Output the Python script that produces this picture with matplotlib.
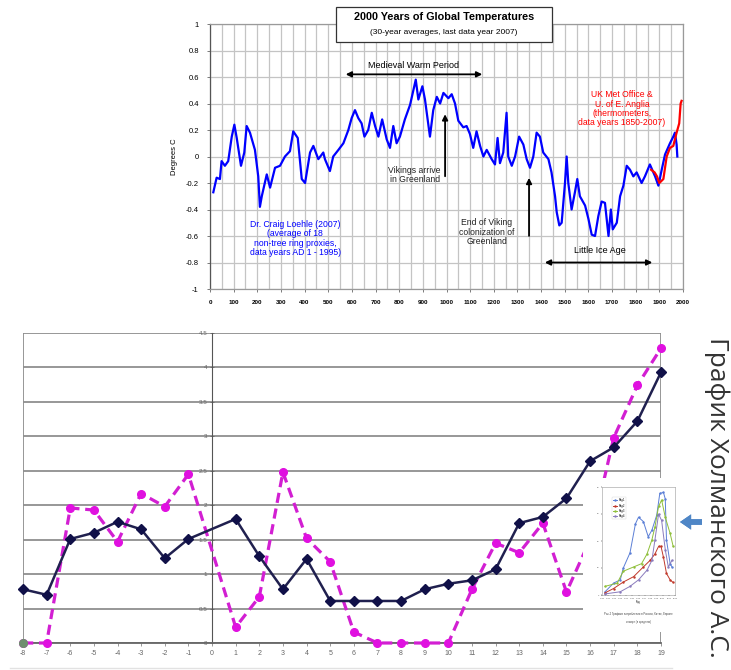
import numpy as np
import matplotlib.pyplot as plt
from matplotlib.patches import Rectangle
from matplotlib.lines import Line2D

plt.rcParams['font.family'] = ['Liberation Sans', 'DejaVu Sans']

# --- top chart: Loehle (2007) reconstruction ---
loehle_years = [14, 28, 42, 49, 63, 77, 92, 103, 113, 131, 145, 155, 169, 190, 204, 211, 219,
                240, 254, 275, 296, 317, 338, 352, 371, 388, 402, 423, 437, 458, 479, 486, 500,
                507, 521, 543, 564, 585, 599, 613, 627, 641, 653, 669, 684, 698, 712, 728, 747,
                761, 775, 789, 803, 824, 846, 860, 870, 881, 898, 909, 930, 944, 959, 973, 987,
                1008, 1022, 1036, 1050, 1071, 1085, 1099, 1113, 1127, 1142, 1156, 1170, 1191,
                1205, 1216, 1226, 1240, 1254, 1261, 1276, 1290, 1307, 1325, 1339, 1353, 1367,
                1381, 1395, 1409, 1431, 1444, 1459, 1466, 1477, 1487, 1501, 1508, 1515, 1529,
                1543, 1553, 1564, 1586, 1600, 1614, 1628, 1642, 1656, 1670, 1685, 1695, 1703,
                1720, 1734, 1748, 1762, 1776, 1790, 1804, 1825, 1839, 1860, 1882, 1896, 1910,
                1924, 1945, 1959, 1966, 1973, 1976]
loehle_temps = [-0.27, -0.16, -0.17, -0.035, -0.07, -0.035, 0.15, 0.24, 0.14, -0.07, 0.03, 0.23,
                0.18, 0.05, -0.15, -0.38, -0.30, -0.135, -0.235, -0.085, -0.07, 0.0, 0.04, 0.19,
                0.14, -0.17, -0.2, 0.03, 0.08, -0.02, 0.03, -0.02, -0.08, -0.11, 0.0, 0.05, 0.1,
                0.2, 0.29, 0.35, 0.29, 0.25, 0.15, 0.2, 0.33, 0.23, 0.15, 0.28, 0.13, 0.065, 0.23,
                0.1, 0.15, 0.28, 0.39, 0.5, 0.58, 0.43, 0.53, 0.43, 0.15, 0.35, 0.45, 0.4, 0.48,
                0.44, 0.47, 0.4, 0.27, 0.22, 0.23, 0.17, 0.065, 0.19, 0.08, 0.0, 0.05, -0.02,
                -0.06, 0.14, -0.05, 0.03, 0.33, 0.0, -0.07, 0.0, 0.15, 0.09, -0.02, -0.085, 0.0,
                0.18, 0.15, 0.03, -0.02, -0.12, -0.3, -0.42, -0.52, -0.5, -0.2, 0.0, -0.2, -0.4,
                -0.27, -0.17, -0.3, -0.37, -0.47, -0.59, -0.6, -0.45, -0.34, -0.35, -0.6, -0.4,
                -0.55, -0.5, -0.3, -0.22, -0.07, -0.1, -0.15, -0.12, -0.2, -0.15, -0.06, -0.15,
                -0.22, -0.1, 0.015, 0.1, 0.15, 0.18, 0.09, 0.0]
cru_years = [1865, 1880, 1890, 1900, 1917, 1931, 1945, 1959, 1973, 1984, 1990, 1994]
cru_temps = [-0.1, -0.12, -0.15, -0.2, -0.17, 0.0, 0.065, 0.08, 0.18, 0.25, 0.4, 0.42]

top_xticks = list(range(0, 2001, 100))
top_yticks = [1, 0.8, 0.6, 0.4, 0.2, 0, -0.2, -0.4, -0.6, -0.8, -1]
top_ylabels = ['1', '0.8', '0.6', '0.4', '0.2', '0', '-0.2', '-0.4', '-0.6', '-0.8', '-1']

# --- bottom chart ---
centuries = [-8, -7, -6, -5, -4, -3, -2, -1, 1, 2, 3, 4, 5, 6, 7, 8, 9, 10, 11, 12, 13, 14, 15,
             16, 17, 18, 19]
navy_vals = [0.78, 0.70, 1.51, 1.60, 1.76, 1.65, 1.23, 1.51, 1.80, 1.26, 0.78, 1.22, 0.61, 0.61,
             0.61, 0.61, 0.78, 0.86, 0.91, 1.07, 1.74, 1.83, 2.10, 2.64, 2.84, 3.22, 3.93]
magenta_vals = [0, 0, 1.96, 1.93, 1.47, 2.17, 1.98, 2.45, 0.23, 0.67, 2.48, 1.52, 1.18, 0.16, 0,
                0, 0, 0, 0.78, 1.45, 1.31, 1.74, 0.74, 1.5, 2.98, 3.74, 4.28]
bottom_xticks = list(range(-8, 20))
bottom_yticks = [0, 0.5, 1, 1.5, 2, 2.5, 3, 3.5, 4, 4.5]
bottom_ylabels = ['0', '0.5', '1', '1.5', '2', '2.5', '3', '3.5', '4', '4.5']

# --- small inset chart ---
inset_blue_x = [0.5, 1.9, 3.0, 3.5, 4.6, 5.5, 6.0, 6.8, 7.6, 8.2, 9.0, 9.5, 10.1, 10.4, 10.6, 11.2, 11.5]
inset_blue_y = [0.03, 0.11, 0.14, 0.25, 0.39, 0.66, 0.72, 0.68, 0.54, 0.60, 0.74, 0.94, 0.95, 0.89, 0.51, 0.29, 0.26]
inset_red_x = [0.5, 1.9, 3.5, 5.2, 6.8, 7.9, 8.7, 9.3, 9.7, 10.1, 10.6, 11.2, 11.6]
inset_red_y = [0.02, 0.06, 0.12, 0.17, 0.26, 0.32, 0.38, 0.45, 0.45, 0.35, 0.2, 0.14, 0.12]
inset_green_x = [0.5, 2.5, 3.5, 5.2, 6.5, 7.4, 8.2, 8.7, 9.3, 9.8, 10.4, 11.2, 11.7]
inset_green_y = [0.08, 0.11, 0.22, 0.26, 0.29, 0.38, 0.51, 0.63, 0.82, 0.88, 0.72, 0.57, 0.45]
inset_purple_x = [0.5, 3.0, 4.6, 6.0, 7.4, 8.2, 8.7, 9.3, 9.8, 10.4, 10.9, 11.5]
inset_purple_y = [0.01, 0.03, 0.08, 0.14, 0.23, 0.32, 0.51, 0.75, 0.69, 0.42, 0.26, 0.32]
inset_labels = ['Ряд1', 'Ряд2', 'Ряд3', 'Ряд4']

W, H = 731, 670
fig = plt.figure(figsize=(W / 100, H / 100), dpi=100)


def fx(px):
    return px / W


def fy(py):
    return 1 - py / H


# ================= top chart =================
ax1 = fig.add_axes([fx(210), fy(289), fx(473), 265 / H])
ax1.plot(loehle_years, loehle_temps, color='#0000ff', lw=1.6, zorder=3)
ax1.plot(cru_years, cru_temps, color='#ff0000', lw=1.6, zorder=4)
ax1.set_xlim(0, 2000)
ax1.set_ylim(-1, 1)
ax1.set_xticks(top_xticks)
ax1.set_xticklabels([str(t) for t in top_xticks], fontsize=4.5, fontweight='bold')
ax1.set_xticks(range(50, 2000, 100), minor=True)
ax1.set_yticks(top_yticks)
ax1.set_yticklabels(top_ylabels, fontsize=5.5)
ax1.grid(which='both', axis='x', color='#c4c4c4', lw=0.9)
ax1.grid(axis='y', color='#c4c4c4', lw=0.9)
ax1.tick_params(which='both', length=2, width=0.6, color='#666', pad=6)
ax1.tick_params(which='minor', length=0)
for s in ax1.spines.values():
    s.set_color('#9a9a9a')
    s.set_linewidth(0.9)
ax1.spines['left'].set_color('#555')
ax1.set_ylabel('Degrees C', fontsize=5.5, labelpad=6)

arrow_kw = dict(arrowstyle='<|-|>', color='black', lw=1.3, mutation_scale=8)
ax1.annotate('', xy=(562, 0.62), xytext=(1163, 0.62), arrowprops=arrow_kw)
ax1.text(862, 0.69, 'Medieval Warm Period', fontsize=6.5, ha='center', va='center')
ax1.annotate('', xy=(1404, -0.80), xytext=(1882, -0.80), arrowprops=arrow_kw)
ax1.text(1650, -0.71, 'Little Ice Age', fontsize=6.5, ha='center', va='center')
up_kw = dict(arrowstyle='-|>', color='black', lw=1.3, mutation_scale=8)
ax1.annotate('', xy=(994, 0.34), xytext=(994, -0.17), arrowprops=up_kw)
ax1.text(975, -0.14, 'Vikings arrive\nin Greenland', fontsize=6.2, ha='right', va='center',
         linespacing=1.0, color='#222')
ax1.annotate('', xy=(1349, -0.14), xytext=(1349, -0.62), arrowprops=up_kw)
ax1.text(1170, -0.57, 'End of Viking\ncolonization of\nGreenland', fontsize=6.2, ha='center',
         va='center', linespacing=1.05, color='#222')
ax1.text(360, -0.62, 'Dr. Craig Loehle (2007)\n(average of 18\nnon-tree ring proxies,\n'
         'data years AD 1 - 1995)', fontsize=6.2, ha='center', va='center', color='#0000ff',
         linespacing=1.05)
ax1.text(1742, 0.36, 'UK Met Office &\nU. of E. Anglia\n(thermometers,\ndata years 1850-2007)',
         fontsize=6.2, ha='center', va='center', color='#ff0000', linespacing=1.05)

# title box
fig.add_artist(Rectangle((fx(336), fy(42)), fx(216), 35 / H, transform=fig.transFigure,
                         facecolor='white', edgecolor='#333', lw=0.9, zorder=5))
fig.text(fx(444), fy(17), '2000 Years of Global Temperatures', fontsize=7.8,
         fontweight='bold', ha='center', va='center', zorder=6)
fig.text(fx(444), fy(33), '(30-year averages, last data year 2007)', fontsize=6,
         ha='center', va='center', zorder=6)

# ================= bottom chart =================
ax2 = fig.add_axes([fx(23), fy(643), fx(638), 310 / H])
ax2.spines['left'].set_position(('data', 0))
ax2.set_xlim(-8, 19)
ax2.set_ylim(0, 4.5)
ax2.set_yticks(bottom_yticks)
ax2.set_yticklabels(bottom_ylabels)
ax2.set_xticks(bottom_xticks)
ax2.set_xticklabels([str(t) for t in bottom_xticks])
ax2.grid(axis='y', color='#8f8f8f', lw=1.3, zorder=0)
ax2.spines['left'].set_color('#555')
ax2.spines['bottom'].set_color('#666')
ax2.spines['bottom'].set_linewidth(1.3)
ax2.spines['top'].set_visible(False)
ax2.spines['right'].set_visible(False)
ax2.axvline(-8, color='#8f8f8f', lw=1.3, zorder=0)
ax2.axvline(19, color='#8f8f8f', lw=1.3, zorder=0)
ax2.tick_params(axis='y', direction='inout', length=3, width=0.6, color='#666', pad=2,
                labelsize=4.5, labelcolor='#666')
ax2.tick_params(axis='x', direction='out', length=2, width=0.6, color='#888', pad=3,
                labelsize=5, labelcolor='#666')

ax2.plot(centuries, magenta_vals, color='#d21fd2', lw=2.3, dashes=(3.2, 1.8), marker='o',
         ms=5.5, mfc='#e010e0', mec='#e010e0', zorder=3, clip_on=False)
ax2.plot(centuries[0], magenta_vals[0], 'o', color='#6f8f6f', ms=5.5, zorder=4, clip_on=False)
ax2.plot(centuries, navy_vals, color='#20204f', lw=1.8, marker='D', ms=5.5, mfc='#101048',
         mec='#101048', zorder=5, clip_on=False)

# inset picture (white card with a small chart)
card = fig.add_axes([fx(583), fy(632), fx(99), 154 / H])
card.set_facecolor('white')
card.set_xticks([])
card.set_yticks([])
for s in card.spines.values():
    s.set_visible(False)

ins = fig.add_axes([fx(602), fy(595), fx(73), 108 / H])
ins.plot(inset_blue_x, inset_blue_y, color='#5b7fd6', lw=0.7, marker='.', ms=1.5, label=inset_labels[0])
ins.plot(inset_red_x, inset_red_y, color='#c0392b', lw=0.7, marker='.', ms=1.5, label=inset_labels[1])
ins.plot(inset_green_x, inset_green_y, color='#8fbf3a', lw=0.7, marker='.', ms=1.5, label=inset_labels[2])
ins.plot(inset_purple_x, inset_purple_y, color='#8a7bbd', lw=0.7, marker='.', ms=1.5, label=inset_labels[3])
ins.set_xlim(0, 12)
ins.set_ylim(0, 1)
ins.set_xticks(range(0, 13))
ins.set_xticklabels([str(1990 + t) for t in range(0, 13)], fontsize=1.6, color='#555')
ins.set_yticks([0, 0.25, 0.5, 0.75, 1])
ins.set_yticklabels(['0', '10', '20', '30', '40'], fontsize=1.6, color='#555')
ins.tick_params(length=1, width=0.3, pad=1)
for s in ins.spines.values():
    s.set_color('#999')
    s.set_linewidth(0.4)
ins.set_xlabel('Год', fontsize=2, labelpad=1)
ins.legend(loc='upper left', fontsize=2, frameon=True, handlelength=1.2, borderpad=0.4,
           labelspacing=0.5, bbox_to_anchor=(0.12, 0.92)).get_frame().set_linewidth(0.3)
fig.text(fx(638), fy(614), 'Рис.2 Графики потребления в России, Китае, Европе', fontsize=2,
         ha='center', va='center', color='#444')
fig.text(fx(638), fy(622), 'и мире (в среднем)', fontsize=2, ha='center', va='center', color='#444')

# pointer arrow and side caption
fig.add_artist(Line2D([fx(10), fx(672)], [fy(668), fy(668)], color='#e2e2e2', lw=1))
fig.text(fx(717), fy(497), 'График Холманского А.С.', rotation=-90, fontsize=19,
         ha='center', va='center', color='#333', family=['Open Sans', 'DejaVu Sans'])
fig.add_artist(plt.annotate('', xy=(fx(680), fy(522)), xytext=(fx(702), fy(522)),
                            xycoords='figure fraction', textcoords='figure fraction',
                            arrowprops=dict(facecolor='#4f86c6', edgecolor='none', width=4,
                                            headwidth=11, headlength=8, shrink=0)))

fig.savefig('out.png', dpi=100)
